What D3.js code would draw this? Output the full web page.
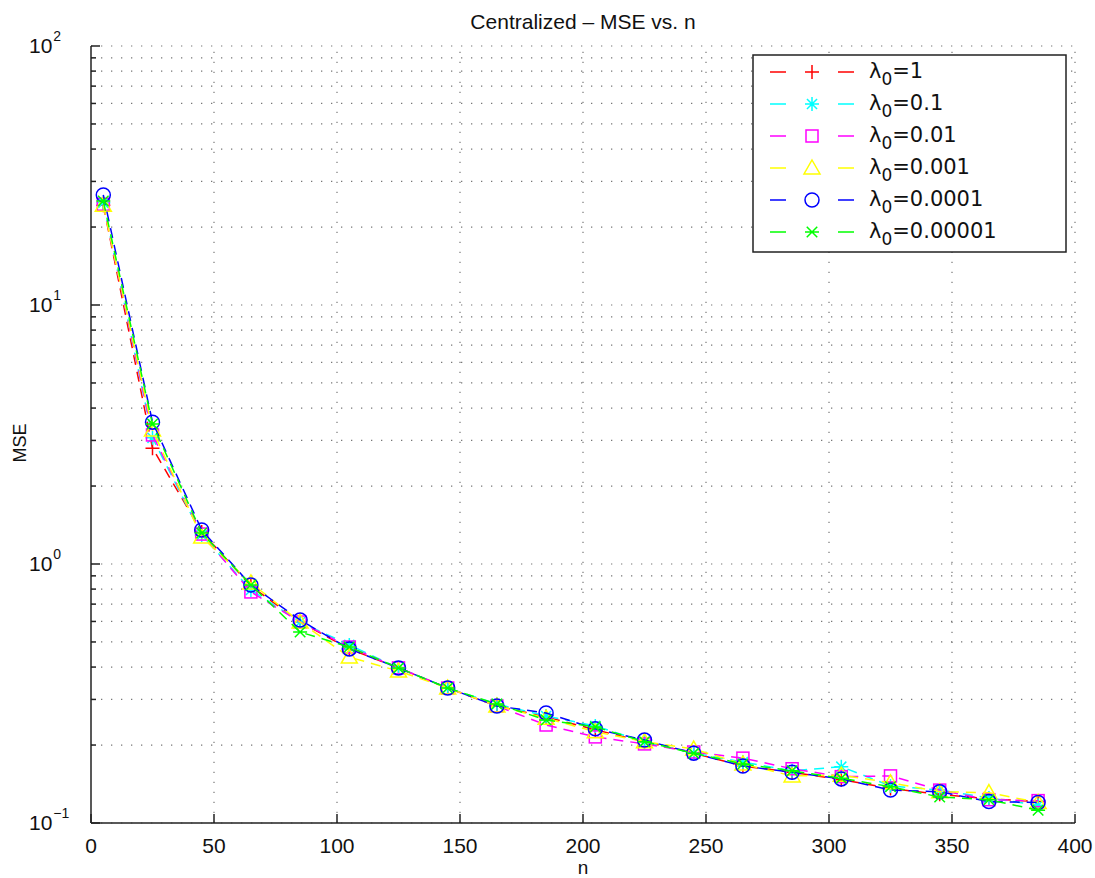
<!DOCTYPE html>
<html>
<head>
<meta charset="utf-8">
<script src="https://cdn.jsdelivr.net/npm/d3@7"></script>
<style>
body{
margin:0;
background-color:white;
font-family:"Liberation Sans",Arial,sans-serif;
}
</style>
</head>
<body>
<div id="chart"></div>
<script>
// sample sizes (x axis)
var nValues = [5,25,45,65,85,105,125,145,165,185,205,225,245,265,285,305,325,345,365,385]

// MSE per lambda_0
var mseL1 = [24.3,2.80,1.33,0.822,0.597,0.470,0.397,0.332,0.283,0.257,0.229,0.206,0.186,0.166,0.157,0.147,0.136,0.129,0.124,0.121]
var mseL01 = [24.8,3.07,1.294,0.794,0.597,0.487,0.397,0.332,0.288,0.259,0.237,0.206,0.186,0.172,0.159,0.165,0.139,0.134,0.125,0.117]
var mseL001 = [24.5,3.15,1.305,0.780,0.597,0.478,0.397,0.332,0.283,0.239,0.215,0.202,0.188,0.178,0.162,0.151,0.152,0.134,0.123,0.122]
var mseL0001 = [24.3,3.29,1.271,0.845,0.597,0.437,0.386,0.332,0.283,0.254,0.225,0.206,0.193,0.169,0.152,0.153,0.143,0.132,0.131,0.120]
var mseL00001 = [26.6,3.53,1.353,0.830,0.608,0.470,0.397,0.332,0.283,0.266,0.231,0.209,0.186,0.166,0.157,0.148,0.134,0.132,0.121,0.120]
var mseL000001 = [25.2,3.47,1.317,0.830,0.546,0.478,0.397,0.332,0.288,0.250,0.235,0.206,0.186,0.169,0.159,0.149,0.138,0.126,0.123,0.112]

var lambdaLabels = ["1","0.1","0.01","0.001","0.0001","0.00001"]
var seriesColors = ["#ff0000","#00ffff","#ff00ff","#ffff00","#0000ff","#00ff00"]
var seriesMarkers = ["plus","star","square","triangle","circle","xstar"]
var allSeries = [mseL1,mseL01,mseL001,mseL0001,mseL00001,mseL000001]

var xTicks = [0,50,100,150,200,250,300,350,400]
var yMajor = [-1,0,1,2] // exponents

var width = 1095
var height = 878
// note: "top" is taken by window.top, so prefix these
var plotLeft = 91, plotRight = 1075, plotTop = 46, plotBottom = 823
var gridColor = "#777"
var axisColor = "#222"
var fontSize = 21

var svg = d3.select("#chart")
.append("svg")
.attr("width",width)
.attr("height",height)

var x = d3.scaleLinear().domain([0,400]).range([plotLeft,plotRight])
var y = d3.scaleLog().domain([0.1,100]).range([plotBottom,plotTop])

// minor values for log grid
var yMinor = []
for(var e=-1;e<2;e++){
for(var m=2;m<10;m++){
yMinor.push(m*Math.pow(10,e))
}
}
var yGridVals = yMajor.map(function(e){return Math.pow(10,e)}).concat(yMinor)

// grid
svg.selectAll(".hgrid")
.data(yGridVals)
.enter()
.append("line")
.attr("class","hgrid")
.attr("x1",plotLeft)
.attr("x2",plotRight)
.attr("y1",function(d){return y(d)})
.attr("y2",function(d){return y(d)})
.attr("stroke",gridColor)
.attr("stroke-width",1.2)
.attr("stroke-dasharray","1.3,8.7")

svg.selectAll(".vgrid")
.data(xTicks.slice(1))
.enter()
.append("line")
.attr("class","vgrid")
.attr("x1",function(d){return x(d)})
.attr("x2",function(d){return x(d)})
.attr("y1",plotBottom)
.attr("y2",plotTop)
.attr("stroke",gridColor)
.attr("stroke-width",1.2)
.attr("stroke-dasharray","1.3,8.7")

// axis lines, left and bottom only
svg.append("line")
.attr("x1",plotLeft).attr("x2",plotLeft)
.attr("y1",plotTop).attr("y2",plotBottom)
.attr("stroke",axisColor).attr("stroke-width",1.5)
svg.append("line")
.attr("x1",plotLeft).attr("x2",plotRight)
.attr("y1",plotBottom).attr("y2",plotBottom)
.attr("stroke",axisColor).attr("stroke-width",1.5)

// y ticks (inward)
svg.selectAll(".ymaj")
.data(yMajor)
.enter()
.append("line")
.attr("x1",plotLeft)
.attr("x2",plotLeft+9)
.attr("y1",function(d){return y(Math.pow(10,d))})
.attr("y2",function(d){return y(Math.pow(10,d))})
.attr("stroke",axisColor).attr("stroke-width",1.5)

svg.selectAll(".ymin")
.data(yMinor)
.enter()
.append("line")
.attr("x1",plotLeft)
.attr("x2",plotLeft+5)
.attr("y1",function(d){return y(d)})
.attr("y2",function(d){return y(d)})
.attr("stroke",axisColor).attr("stroke-width",1.5)

// x ticks (inward)
svg.selectAll(".xtick")
.data(xTicks)
.enter()
.append("line")
.attr("x1",function(d){return x(d)})
.attr("x2",function(d){return x(d)})
.attr("y1",plotBottom)
.attr("y2",plotBottom-9)
.attr("stroke",axisColor).attr("stroke-width",1.5)

svg.selectAll(".xlabel")
.data(xTicks)
.enter()
.append("text")
.attr("x",function(d){return x(d)})
.attr("y",plotBottom+30)
.attr("text-anchor","middle")
.attr("font-size",fontSize)
.attr("fill","#111")
.text(function(d){return d})

// y labels 10^e
var yLab = svg.selectAll(".ylabel")
.data(yMajor)
.enter()
.append("text")
.attr("x",29)
.attr("y",function(d){return y(Math.pow(10,d))+7})
.attr("font-size",fontSize)
.attr("fill","#111")
yLab.append("tspan").text("10")
yLab.append("tspan")
.attr("font-size",14)
.attr("dy",-12)
.attr("dx",1)
.text(function(d){return d<0 ? "\u2212"+Math.abs(d) : d})

// titles
svg.append("text")
.attr("x",583)
.attr("y",29)
.attr("text-anchor","middle")
.attr("font-size",21)
.attr("fill","#111")
.text("Centralized \u2013 MSE vs. n")

svg.append("text")
.attr("x",583)
.attr("y",874)
.attr("text-anchor","middle")
.attr("font-size",19)
.attr("fill","#111")
.text("n")

svg.append("text")
.attr("transform","translate(26,443) rotate(-90)")
.attr("text-anchor","middle")
.attr("font-size",18)
.attr("fill","#111")
.text("MSE")

function drawMarker(g,type,color,cx,cy){
var s = 7
if(type=="plus"){
g.append("path").attr("d","M"+(cx-s)+","+cy+"H"+(cx+s)+"M"+cx+","+(cy-s)+"V"+(cy+s))
.attr("stroke",color).attr("stroke-width",1.5).attr("fill","none")
}
if(type=="star"){
var p = "M"+(cx-s)+","+cy+"H"+(cx+s)+"M"+cx+","+(cy-s)+"V"+(cy+s)
var k = s*0.72
p += "M"+(cx-k)+","+(cy-k)+"L"+(cx+k)+","+(cy+k)+"M"+(cx-k)+","+(cy+k)+"L"+(cx+k)+","+(cy-k)
g.append("path").attr("d",p).attr("stroke",color).attr("stroke-width",1.5).attr("fill","none")
}
if(type=="square"){
g.append("rect").attr("x",cx-6).attr("y",cy-6).attr("width",12).attr("height",12)
.attr("stroke",color).attr("stroke-width",1.5).attr("fill","none")
}
if(type=="triangle"){
g.append("path").attr("d","M"+cx+","+(cy-8)+"L"+(cx+8)+","+(cy+6)+"L"+(cx-8)+","+(cy+6)+"Z")
.attr("stroke",color).attr("stroke-width",1.5).attr("fill","none")
}
if(type=="circle"){
g.append("circle").attr("cx",cx).attr("cy",cy).attr("r",7)
.attr("stroke",color).attr("stroke-width",1.5).attr("fill","none")
}
if(type=="xstar"){
var k2 = s*0.75
var p2 = "M"+(cx-k2)+","+(cy-k2)+"L"+(cx+k2)+","+(cy+k2)+"M"+(cx-k2)+","+(cy+k2)+"L"+(cx+k2)+","+(cy-k2)
p2 += "M"+(cx-s)+","+cy+"H"+(cx+s)
g.append("path").attr("d",p2).attr("stroke",color).attr("stroke-width",1.5).attr("fill","none")
}
}

var line = d3.line()
.x(function(d){return x(d[0])})
.y(function(d){return y(d[1])})

for(var si=0;si<allSeries.length;si++){
var pts = nValues.map(function(n,i){return [n,allSeries[si][i]]})
var g = svg.append("g").attr("class","series"+si)
g.append("path")
.datum(pts)
.attr("d",line)
.attr("fill","none")
.attr("stroke",seriesColors[si])
.attr("stroke-width",1.5)
.attr("stroke-dasharray","10,7")
for(var i=0;i<pts.length;i++){
drawMarker(g,seriesMarkers[si],seriesColors[si],x(pts[i][0]),y(pts[i][1]))
}
}

// legend
var legend = svg.append("g").attr("class","legend")
legend.append("rect")
.attr("x",753).attr("y",55)
.attr("width",313).attr("height",197)
.attr("fill","white")
.attr("stroke",axisColor)
.attr("stroke-width",1.5)

for(var li=0;li<lambdaLabels.length;li++){
var ly = 72+li*32
legend.append("line").attr("x1",770).attr("x2",786).attr("y1",ly).attr("y2",ly)
.attr("stroke",seriesColors[li]).attr("stroke-width",1.5)
legend.append("line").attr("x1",838).attr("x2",854).attr("y1",ly).attr("y2",ly)
.attr("stroke",seriesColors[li]).attr("stroke-width",1.5)
drawMarker(legend,seriesMarkers[li],seriesColors[li],812,ly)
var t = legend.append("text")
.attr("x",869)
.attr("y",ly+6)
.attr("font-family","DejaVu Sans")
.attr("font-size",21)
.attr("fill","#111")
t.append("tspan").text("\u03bb")
t.append("tspan").attr("font-size",17).attr("dy",7).text("0")
t.append("tspan").attr("dy",-7).text("="+lambdaLabels[li])
}
</script>
</body>
</html>
